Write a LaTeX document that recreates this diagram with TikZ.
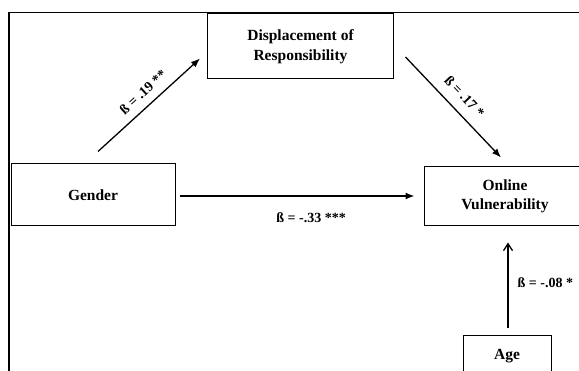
\documentclass[tikz,border=0pt]{standalone}
\usepackage{fontspec}
\setmainfont{Liberation Serif}
\usetikzlibrary{arrows.meta,calc,positioning}

\begin{document}
\begin{tikzpicture}[x=1pt,y=-1pt,
    var/.style={draw,line width=1pt,align=center,inner sep=0pt,
      font=\fontsize{15.5}{19.5}\selectfont\bfseries},
    path/.style={line width=1.3pt,-{Latex[length=9pt,width=7pt]}},
    coef/.style={inner sep=0pt,font=\fontsize{14}{16}\selectfont\bfseries}]
    \useasboundingbox (0,0) rectangle (579,371);
    \clip (0,0) rectangle (579,371);
    % frame
    \draw[line width=1.2pt] (9,390) -- (9,12.5) -- (600,12.5);
    % variables
    \node[var,minimum width=186pt,minimum height=65pt] (disp) at (300.5,46.5) {Displacement of\\Responsibility};
    \node[var,minimum width=164pt,minimum height=62pt] (gender) at (93,195) {Gender};
    \node[var,minimum width=162pt,minimum height=59pt] (online) at (505,196.5) {Online\\Vulnerability};
    \node[var,minimum width=88pt,minimum height=40pt] (age) at (507,356) {Age};
    % end points of the paths
    \coordinate (g1) at ($(gender.north)+(5,-12)$);
    \coordinate (d1) at ($(disp.south west)+(-7,-21)$);
    \coordinate (d2) at ($(disp.east)+(11.5,10.5)$);
    \coordinate (o1) at ($(online.north)+(-4,-9)$);
    \coordinate (g2) at ($(gender.east)+(4,1)$);
    \coordinate (o2) at ($(online.west)+(-9,-0.5)$);
    \coordinate (a1) at ($(age.north)+(1,-7)$);
    \coordinate (o3) at ($(online.south)+(3,16)$);
    % paths
    \draw[path] (g1) -- node[coef,sloped,above=8pt,pos=0.53] {ß = .19 **} (d1);
    \draw[path] (d2) -- node[coef,sloped,above=10pt,pos=0.5] {ß = .17 *} (o1);
    \draw[path] (g2) -- node[coef,below=16pt,pos=0.56] {ß = -.33 ***} (o2);
    \draw[line width=1.3pt,-{Straight Barb[length=7pt,width=9pt]}] (a1) -- node[coef,anchor=west,xshift=9pt,pos=0.53] {ß = -.08 *} (o3);
\end{tikzpicture}
\end{document}
